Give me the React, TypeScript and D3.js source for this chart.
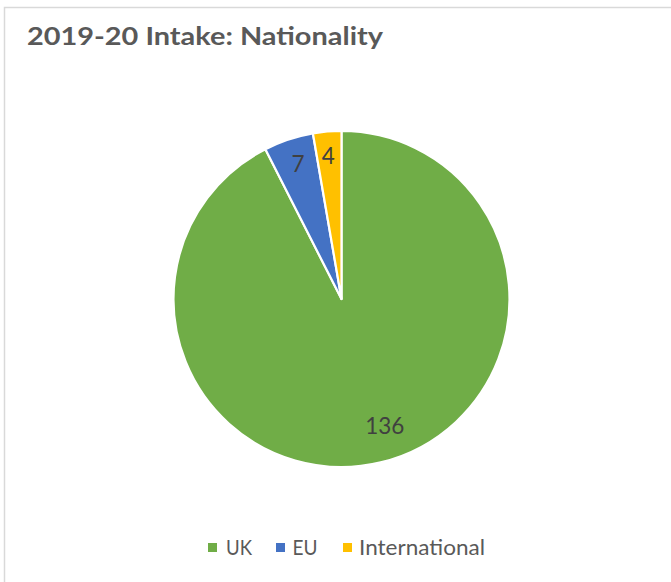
import React from "react";
import * as d3 from "d3";

const categories = ["UK", "EU", "International"];
const values = [136, 7, 4];
const colors = ["#70AD47", "#4472C4", "#FFC000"];
const title = "2019-20 Intake: Nationality";

const W = 671;
const H = 582;
const cx = 341.5;
const cy = 299;
const R = 168;
const FONT = "Lato, 'Open Sans', sans-serif";

export default function App() {
  const pie = d3
    .pie<number>()
    .sort(null)
    .value((d) => d);
  const arcs = pie(values);
  const arc = d3.arc<d3.PieArcDatum<number>>().innerRadius(0).outerRadius(R);
  const labelFactor = [0.8, 0.84, 0.85];
  const labelShift = [[12, -4], [1, -2], [-1, -1]];

  const legendX = [208, 276, 343];
  const legendTextX = [226, 292.5, 359];
  const legendTextW = [26, 25, 126];

  return (
    <svg
      width={W}
      height={H}
      style={{ position: "fixed", left: 0, top: 0, background: "#fff" }}
    >
      <rect x={0} y={0} width={W} height={H} fill="#fff" />
      <path
        d={`M4.5,${H} L4.5,7.5 L${W},7.5`}
        fill="none"
        stroke="#D9D9D9"
        strokeWidth={1.5}
      />
      <text
        x={27}
        y={45}
        fontFamily={FONT}
        fontWeight={700}
        fontSize={25}
        fill="#595959"
        textLength={356}
        lengthAdjust="spacingAndGlyphs"
      >
        {title}
      </text>
      <g transform={`translate(${cx},${cy})`}>
        {arcs.map((a, i) => (
          <path
            key={categories[i]}
            d={arc(a) || ""}
            fill={colors[i]}
            stroke="#fff"
            strokeWidth={2.2}
            strokeLinejoin="round"
          />
        ))}
        {arcs.map((a, i) => {
          const mid = (a.startAngle + a.endAngle) / 2;
          const r = R * labelFactor[i];
          const x = Math.sin(mid) * r + labelShift[i][0];
          const y = -Math.cos(mid) * r + labelShift[i][1];
          return (
            <text
              key={"l" + i}
              x={x}
              y={y}
              textAnchor="middle"
              dominantBaseline="central"
              fontFamily={FONT}
              fontSize={22.5}
              fill="#404040"
            >
              {values[i]}
            </text>
          );
        })}
      </g>
      {categories.map((c, i) => (
        <g key={"lg" + c}>
          <rect x={legendX[i]} y={543} width={9} height={9} fill={colors[i]} />
          <text
            x={legendTextX[i]}
            y={555}
            fontFamily={FONT}
            fontSize={21}
            fill="#595959"
            textLength={legendTextW[i]}
            lengthAdjust="spacingAndGlyphs"
          >
            {c}
          </text>
        </g>
      ))}
    </svg>
  );
}
